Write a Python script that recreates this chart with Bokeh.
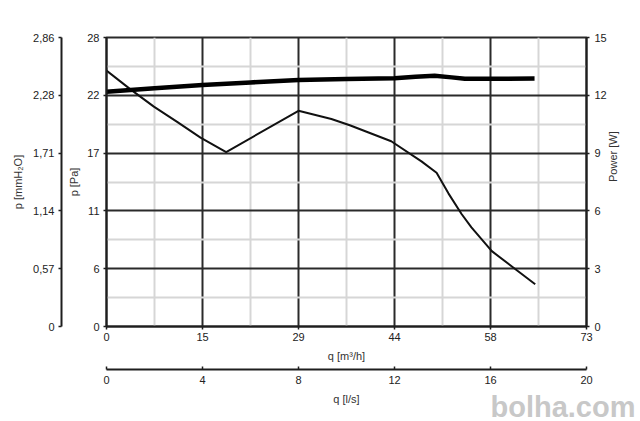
import math
from bokeh.plotting import figure
from bokeh.models import Range1d, LinearAxis, FixedTicker, Title
from bokeh.embed import file_html
from bokeh.resources import INLINE

# ---- data ----
flow_pressure = [0, 3.6, 7.2, 10.8, 14.3, 18.2, 29.2, 34.2, 37.0, 43.3, 47.9, 50.2, 52.0, 54.0, 55.5, 58.6, 62.1, 65.2]
pressure_pa = [24.8, 23.0, 21.3, 19.8, 18.3, 16.9, 20.9, 20.1, 19.5, 17.95, 16.0, 14.9, 12.9, 10.9, 9.6, 7.3, 5.6, 4.1]

flow_power = [0, 7.3, 14.6, 21.9, 29.2, 36.5, 43.8, 47.0, 49.9, 52.5, 54.5, 60.0, 65.1]
power_w = [12.18, 12.36, 12.53, 12.67, 12.79, 12.84, 12.89, 12.96, 13.01, 12.93, 12.86, 12.86, 12.87]

x_ticks = [0, 14.6, 29.2, 43.8, 58.4, 73]
x_labels = ["0", "15", "29", "44", "58", "73"]
ls_ticks = [0, 4, 8, 12, 16, 20]
pa_ticks = [0, 5.6, 11.2, 16.8, 22.4, 28]
pa_labels = ["0", "6", "11", "17", "22", "28"]
mm_ticks = [0, 0.572, 1.144, 1.716, 2.288, 2.86]
mm_labels = ["0", "0,57", "1,14", "1,71", "2,28", "2,86"]
w_ticks = [0, 3, 6, 9, 12, 15]

FONT = "Liberation Sans"
DARK = "#1e1e1e"


def midpoints(t):
    return [(a + b) / 2 for a, b in zip(t[:-1], t[1:])]


p = figure(width=640, height=421, output_backend="svg", toolbar_location=None,
           x_range=Range1d(0, 73), y_range=Range1d(0, 28),
           min_border_left=106, min_border_right=54, min_border_top=37, min_border_bottom=95)
p.extra_y_ranges = {"mm": Range1d(0, 2.86), "w": Range1d(0, 15)}
p.extra_x_ranges = {"ls": Range1d(0, 20)}
p.outline_line_color = "#2a2a2a"
p.outline_line_width = 2
p.background_fill_color = "white"
p.border_fill_color = "white"

# grids
p.xgrid.ticker = FixedTicker(ticks=x_ticks, minor_ticks=midpoints(x_ticks))
p.ygrid.ticker = FixedTicker(ticks=pa_ticks, minor_ticks=midpoints(pa_ticks))
for g in (p.xgrid[0], p.ygrid[0]):
    g.grid_line_color = "#2a2a2a"
    g.grid_line_width = 2
    g.minor_grid_line_color = "#d6d6d6"
    g.minor_grid_line_width = 2


def style(ax, tick_out=3, tick_in=0, label_standoff=4, axis_label_standoff=5):
    ax.axis_line_color = DARK
    ax.axis_line_width = 2
    ax.major_tick_line_color = DARK
    ax.major_tick_line_width = 1.5
    ax.major_tick_out = tick_out
    ax.major_tick_in = tick_in
    ax.minor_tick_line_color = None
    ax.major_label_standoff = label_standoff
    ax.major_label_text_font = FONT
    ax.major_label_text_font_size = "11px"
    ax.major_label_text_color = "#222222"
    ax.axis_label_standoff = axis_label_standoff
    ax.axis_label_text_font = FONT
    ax.axis_label_text_font_size = "11px"
    ax.axis_label_text_font_style = "normal"
    ax.axis_label_text_color = "#333333"


# bottom axis m3/h
xa = p.xaxis[0]
xa.ticker = FixedTicker(ticks=x_ticks)
xa.major_label_overrides = dict(zip(x_ticks, x_labels))
xa.axis_label = "q [m³/h]"
style(xa, tick_out=3, label_standoff=3, axis_label_standoff=6)

# left axis Pa
ya = p.yaxis[0]
ya.ticker = FixedTicker(ticks=pa_ticks)
ya.major_label_overrides = dict(zip(pa_ticks, pa_labels))
ya.axis_label = "p [Pa]"
style(ya, tick_out=3, label_standoff=4, axis_label_standoff=4)

# spacer then mmH2O axis
p.add_layout(Title(text=" ", text_font_size="1px", standoff=1), "left")
mm = LinearAxis(y_range_name="mm", ticker=FixedTicker(ticks=mm_ticks),
                major_label_overrides=dict(zip(mm_ticks, mm_labels)),
                axis_label="p [mmH₂O]")
style(mm, tick_out=3, label_standoff=4, axis_label_standoff=6)
p.add_layout(mm, "left")

# right axis power
wa = LinearAxis(y_range_name="w", ticker=FixedTicker(ticks=w_ticks), axis_label="Power [W]")
style(wa, tick_out=3, label_standoff=5, axis_label_standoff=3)
wa.axis_label_orientation = math.pi / 2
p.add_layout(wa, "right")

# spacer then l/s axis
p.add_layout(Title(text=" ", text_font_size="1px", standoff=2), "below")
ls = LinearAxis(x_range_name="ls", ticker=FixedTicker(ticks=ls_ticks), axis_label="q [l/s]")
style(ls, tick_out=0, tick_in=3, label_standoff=6, axis_label_standoff=6)
p.add_layout(ls, "below")

# curves
p.line(flow_pressure, pressure_pa, line_color="#111111", line_width=2)
p.line(flow_power, power_w, y_range_name="w", line_color="#000000", line_width=4.5)

# watermark (in the bottom side panel so it is not clipped to the frame)
p.add_layout(Title(text="bolha.com", align="right", vertical_align="top",
                   standoff=-34, offset=-49, text_font=FONT, text_font_style="bold",
                   text_font_size="29px", text_color="#c8c8c8"), "below")

open("out.html", "w").write(file_html(p, INLINE))
